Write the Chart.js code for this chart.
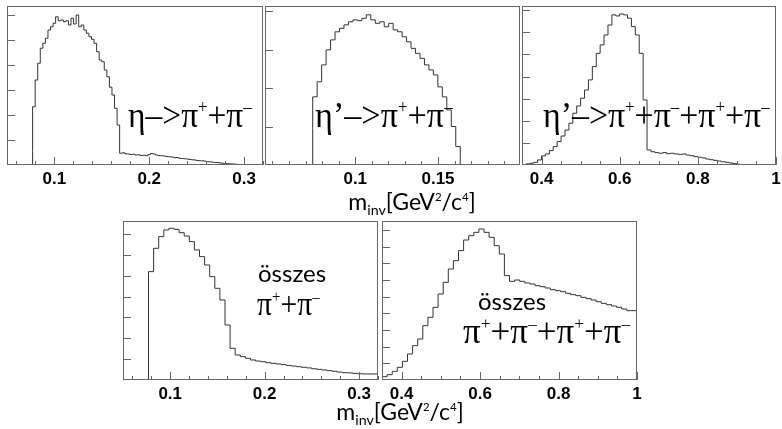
<!DOCTYPE html>
<html>
<head>
<meta charset="utf-8">
<script src="https://cdn.jsdelivr.net/npm/chart.js@4.4.1/dist/chart.umd.min.js"></script>
<style>
  body { margin: 0; background: #fff; width: 782px; height: 429px; overflow: hidden; position: relative; }
  canvas { position: absolute; }
  .lbl { position: absolute; white-space: nowrap; line-height: 1; color: #000; transform-origin: left top; }
  .serif { font-family: "Liberation Serif", "Times New Roman", serif; }
  .sans { font-family: Lato, "Open Sans", sans-serif; }
  .lbl sup { font-size: 0.5em; vertical-align: 0.8em; line-height: 0; }
  .lbl sub { font-size: 0.62em; vertical-align: -0.35em; line-height: 0; }
  .title { text-align: center; width: 300px; }
</style>
</head>
<body>
<canvas id="p1"></canvas>
<canvas id="p2"></canvas>
<canvas id="p3"></canvas>
<canvas id="p4"></canvas>
<canvas id="p5"></canvas>

<div class="lbl serif" style="left:128px; top:97px; font-size:36px; transform:scaleX(0.93);">η–&gt;π<sup>+</sup>+π<sup>–</sup></div>
<div class="lbl serif" style="left:315px; top:97px; font-size:36px; transform:scaleX(0.95);">η’–&gt;π<sup>+</sup>+π<sup>–</sup></div>
<div class="lbl serif" style="left:543px; top:97px; font-size:36px; transform:scaleX(0.94);">η’–&gt;π<sup>+</sup>+π<sup>–</sup>+π<sup>+</sup>+π<sup>–</sup></div>
<div class="lbl sans" style="left:258px; top:261px; font-size:24px;">összes</div>
<div class="lbl serif" style="left:257px; top:288px; font-size:33px; transform:scaleX(0.9);">π<sup>+</sup>+π<sup>–</sup></div>
<div class="lbl sans" style="left:478px; top:289px; font-size:24px;">összes</div>
<div class="lbl serif" style="left:463px; top:314px; font-size:35px;">π<sup>+</sup>+π<sup>–</sup>+π<sup>+</sup>+π<sup>–</sup></div>
<div class="lbl sans title" style="left:262px; top:190px; font-size:23px;">m<sub>inv</sub>[GeV<sup>2</sup>/c<sup>4</sup>]</div>
<div class="lbl sans title" style="left:250px; top:400px; font-size:23px;">m<sub>inv</sub>[GeV<sup>2</sup>/c<sup>4</sup>]</div>

<script>
// η -> π+ π-
const p1Start = 0.077, p1Width = 0.0027;
const p1Values = [53, 233, 340, 407, 467, 487, 507, 540, 553, 567, 593, 577, 580, 573, 577, 560, 587, 564, 600, 553,
  560, 540, 527, 513, 503, 487, 453, 420, 413, 380, 353, 311, 280, 227, 160, 47,
  49, 45, 44, 42, 43, 40, 41, 38, 39, 37, 41, 46, 44, 40, 38, 37, 36, 34, 33, 32,
  29, 30, 27, 26, 25, 24, 22, 21, 20, 18, 17, 17, 15, 13, 13, 11, 10, 10, 8, 7, 6, 5, 4, 4, 3, 2];

// η' -> π+ π-
const p2Start = 0.0743, p2Width = 0.0027;
const p2Values = [95, 177, 216, 260, 299, 325, 346, 355, 364, 372, 377, 375, 381, 390, 377, 368, 372, 359, 368, 351,
  346, 333, 320, 303, 290, 277, 260, 247, 234, 203, 177, 143, 100, 48];

// η' -> π+ π- π+ π-
const p3Start = 0.36, p3Width = 0.01;
const p3Values = [2, 5, 8, 12, 23, 41, 50, 65, 83, 106, 131, 158, 189, 234, 267, 302, 339, 385, 445, 505,
  543, 588, 633, 679, 674, 683, 679, 664, 626, 588, 505, 294, 68, 60, 56, 53, 56, 51, 53, 50,
  48, 50, 45, 42, 38, 35, 32, 27, 24, 21, 18, 15, 12, 9, 6, 3];

// összes π+ π-
const p4Start = 0.077, p4Width = 0.0054;
const p4Values = [216, 520, 632, 688, 720, 728, 723, 707, 691, 664, 624, 592, 552, 496, 440, 384, 264, 152, 120, 112,
  104, 96, 91, 88, 83, 80, 77, 74, 70, 67, 64, 61, 58, 54, 51, 48, 45, 42, 38, 35, 34, 32, 30, 29, 29];

// összes π+ π- π+ π-
const p5Start = 0.35, p5Width = 0.013;
const p5Values = [10, 20, 32, 52, 76, 112, 156, 206, 246, 326, 376, 436, 516, 586, 666, 716, 776, 840, 866, 886,
  906, 886, 856, 806, 756, 626, 592, 600, 592, 582, 576, 566, 560, 552, 542, 536, 530, 520, 512, 506,
  496, 488, 480, 470, 460, 452, 444, 436, 426, 416];

// tick labels
const lowMassTicks = [0.1, 0.2, 0.3];
const etaPrimeTicks = [0.1, 0.15];
const highMassTicks = [0.4, 0.6, 0.8, 1];
const p1YTicks = [100, 200, 300, 400, 500, 600];
const p2YTicks = [100, 200, 300, 400];
const p3YTicks = [100, 200, 300, 400, 500, 600, 700];
const p4YTicks = [100, 200, 300, 400, 500, 600, 700];
const p5YTicks = [100, 200, 300, 400, 500, 600, 700, 800, 900];

const PAD_L = 16, PAD_R = 16, PAD_T = 4, AXIS_H = 30;

// frame + inward ticks, ROOT style
const framePlugin = {
  id: 'frame',
  afterDatasetsDraw(chart, args, opts) {
    const { ctx, chartArea: a } = chart;
    const x = chart.scales.x, y = chart.scales.y;
    ctx.save();
    ctx.strokeStyle = '#666';
    ctx.lineWidth = 1;
    ctx.beginPath();
    opts.yTicks.forEach(v => {
      const py = Math.round(y.getPixelForValue(v)) + 0.5;
      ctx.moveTo(a.left, py);
      ctx.lineTo(a.left + 8, py);
    });
    const i0 = Math.ceil(x.min / opts.minor - 1e-6), i1 = Math.floor(x.max / opts.minor + 1e-6);
    for (let i = i0; i <= i1; i++) {
      const px = Math.round(x.getPixelForValue(i * opts.minor)) + 0.5;
      ctx.moveTo(px, a.bottom);
      ctx.lineTo(px, a.bottom - 4);
    }
    opts.major.forEach(v => {
      const px = Math.round(x.getPixelForValue(v)) + 0.5;
      ctx.moveTo(px, a.bottom);
      ctx.lineTo(px, a.bottom - 8);
    });
    ctx.stroke();
    ctx.strokeRect(a.left + 0.5, a.top + 0.5, a.right - a.left - 1, a.bottom - a.top - 1);
    ctx.restore();
  }
};

function makePanel(id, frame, start, width, values, xMin, xMax, yMax, major, minor, yTicks) {
  const canvas = document.getElementById(id);
  canvas.width = frame.r - frame.l + PAD_L + PAD_R;
  canvas.height = frame.b - frame.t + PAD_T + AXIS_H;
  canvas.style.left = (frame.l - PAD_L) + 'px';
  canvas.style.top = (frame.t - PAD_T) + 'px';

  // step outline of the histogram: rise at the first edge, drop after the last bin
  const pts = [{ x: start, y: 0 }];
  values.forEach((v, i) => pts.push({ x: start + i * width, y: v }));
  const end = start + values.length * width;
  pts.push({ x: end, y: end < xMax - 1e-9 ? 0 : values[values.length - 1] });

  return new Chart(canvas, {
    type: 'line',
    data: {
      datasets: [{
        data: pts,
        stepped: 'after',
        borderColor: '#333',
        borderWidth: 1,
        pointRadius: 0,
        fill: false
      }]
    },
    options: {
      responsive: false,
      animation: false,
      devicePixelRatio: 1,
      layout: { padding: { left: PAD_L, right: PAD_R, top: PAD_T, bottom: 0 } },
      plugins: {
        legend: { display: false },
        tooltip: { enabled: false },
        frame: { yTicks: yTicks, major: major, minor: minor }
      },
      scales: {
        x: {
          type: 'linear',
          min: xMin,
          max: xMax,
          afterBuildTicks: s => { s.ticks = major.map(v => ({ value: v })); },
          afterFit: s => { s.height = AXIS_H; },
          grid: { display: false, drawTicks: false },
          border: { display: false },
          ticks: {
            padding: 4,
            color: '#000',
            autoSkip: false,
            maxRotation: 0,
            font: { family: '"Liberation Sans", Arial, sans-serif', size: 17, weight: 'bold' },
            callback: v => String(v)
          }
        },
        y: { display: false, min: 0, max: yMax }
      }
    },
    plugins: [framePlugin]
  });
}

makePanel('p1', { l: 7, t: 6, r: 263, b: 165 }, p1Start, p1Width, p1Values, 0.05, 0.32, 636, lowMassTicks, 0.02, p1YTicks);
makePanel('p2', { l: 265, t: 6, r: 520, b: 165 }, p2Start, p2Width, p2Values, 0.0455, 0.1995, 413, etaPrimeTicks, 0.01, p2YTicks);
makePanel('p3', { l: 522, t: 6, r: 776, b: 165 }, p3Start, p3Width, p3Values, 0.35, 1.0, 719, highMassTicks, 0.05, p3YTicks);
makePanel('p4', { l: 123, t: 221, r: 378, b: 380 }, p4Start, p4Width, p4Values, 0.05, 0.32, 763, lowMassTicks, 0.02, p4YTicks);
makePanel('p5', { l: 382, t: 221, r: 637, b: 380 }, p5Start, p5Width, p5Values, 0.35, 1.0, 954, highMassTicks, 0.05, p5YTicks);
</script>
</body>
</html>
